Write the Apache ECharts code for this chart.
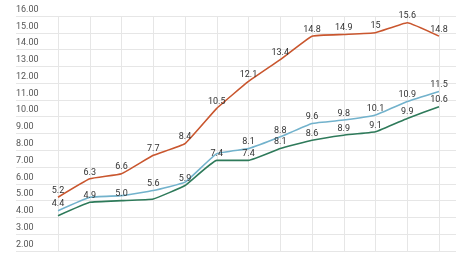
<!DOCTYPE html>
<html><head><meta charset="utf-8">
<script src="https://cdn.jsdelivr.net/npm/echarts@6/dist/echarts.min.js"></script>
<style>html,body{margin:0;padding:0;background:#fff}#c{width:470px;height:255px}</style>
</head><body><div id="c"></div>
<script>
var categories = ['1','2','3','4','5','6','7','8','9','10','11','12','13'];
var seriesOrange = [5.2, 6.3, 6.6, 7.7, 8.4, 10.5, 12.1, 13.4, 14.8, 14.9, 15, 15.6, 14.8];
var seriesBlue = [4.4, 5.2, 5.3, 5.6, 6.1, 7.8, 8.1, 8.8, 9.6, 9.8, 10.1, 10.9, 11.5];
var seriesGreen = [4.1, 4.9, 5.0, 5.1, 5.9, 7.4, 7.4, 8.1, 8.6, 8.9, 9.1, 9.9, 10.6];
// indices whose value labels are not drawn (they collide in the original)
var hiddenOrange = [];
var hiddenBlue = [1, 2, 4, 5];
var hiddenGreen = [0, 3];
var yMin = 2, yMax = 16, yStep = 1;

var chart = echarts.init(document.getElementById('c'), null, {renderer:'canvas'});
function fmt(p){
  var v = p.value;
  return (v >= 10 && v % 1 === 0) ? String(v) : v.toFixed(1);
}
function mk(name, data, hidden, color){
  return {
    name: name, type: 'line', xAxisIndex: 1, yAxisIndex: 1,
    data: data.map(function(v, i){
      return hidden.indexOf(i) >= 0 ? {value: v, label: {show: false}} : v;
    }),
    smooth: 0.1, showSymbol: true, symbol: 'circle', symbolSize: 0.1,
    lineStyle: {color: color, width: 1.6}, itemStyle: {color: color},
    label: {show: true, position: 'top', distance: 2, fontSize: 9, color: '#333',
            fontFamily: 'Roboto', formatter: fmt},
    animation: false
  };
}
chart.setOption({
  animation: false,
  grid: [
    {left: 16, right: 14, top: 16, bottom: 4},
    {left: 58, right: 31, top: 16, bottom: 4}
  ],
  xAxis: [
    {gridIndex: 0, type: 'category', data: categories, show: false},
    {gridIndex: 1, type: 'category', data: categories, boundaryGap: false,
     axisLine: {show: false}, axisTick: {show: false}, axisLabel: {show: false},
     splitLine: {show: true, lineStyle: {color: '#e6e6e6', width: 1}}}
  ],
  yAxis: [
    {gridIndex: 0, type: 'value', min: yMin, max: yMax, interval: yStep,
     axisLine: {show: false}, axisTick: {show: false},
     splitLine: {show: true, lineStyle: {color: '#e6e6e6', width: 1}},
     axisLabel: {inside: true, margin: 0, verticalAlign: 'bottom', padding: [0,0,2,0],
       fontSize: 9, color: '#555', fontFamily: 'Roboto',
       formatter: function(v){ return v.toFixed(2); }}},
    {gridIndex: 1, type: 'value', min: yMin, max: yMax, interval: yStep, show: false,
     splitLine: {show: false}}
  ],
  series: [
    mk('orange', seriesOrange, hiddenOrange, '#c9562e'),
    mk('green', seriesGreen, hiddenGreen, '#2e7a5a'),
    mk('blue', seriesBlue, hiddenBlue, '#72b2cc')
  ]
});
</script></body></html>
